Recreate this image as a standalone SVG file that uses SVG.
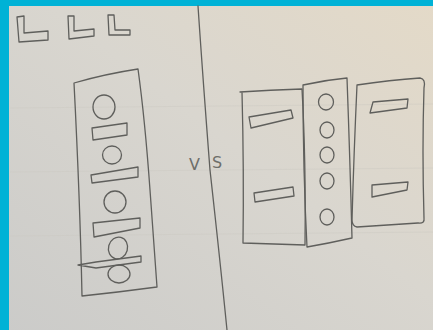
<svg xmlns="http://www.w3.org/2000/svg" width="433" height="330" viewBox="0 0 433 330">
<defs>
<linearGradient id="paper" x1="1" y1="0" x2="0" y2="1">
<stop offset="0" stop-color="#e4dac8"/>
<stop offset="0.45" stop-color="#d9d6cf"/>
<stop offset="1" stop-color="#cbcbc9"/>
</linearGradient>
</defs>
<style>
.ink{fill:none;stroke:#5f5f5c;stroke-width:1.3;stroke-linejoin:round;stroke-linecap:round}
.faint{fill:none;stroke:#c9c7c1;stroke-width:0.7;opacity:0.6}
.lbl{font-family:"DejaVu Sans","Liberation Sans",sans-serif;font-size:16px;fill:#6e6e6a;font-weight:normal}
</style>
<rect x="0" y="0" width="433" height="330" fill="url(#paper)"/>
<g id="paper-lines">
<path class="faint" d="M10 108 L433 104"/>
<path class="faint" d="M10 172 L433 168"/>
<path class="faint" d="M10 236 L433 232"/>
</g>
<rect x="0" y="0" width="433" height="6" fill="#00b2d6"/>
<rect x="0" y="0" width="9" height="330" fill="#00b2d6"/>

<g id="icons">
<path class="ink" d="M17 17 L24 16 L24 33 L48 31 L48 40 L19 42 Z"/>
<path class="ink" d="M68 16 L74 16 L74 31 L94 29 L94 36 L69 39 Z"/>
<path class="ink" d="M108 15 L114 15 L115 30 L130 30 L130 35 L109 35 Z"/>
</g>

<g id="divider">
<path class="ink" d="M198 6 Q203 80 210 170 Q220 260 227 330"/>
</g>

<g id="label-vs">
<text class="lbl" y="170"><tspan x="189">V</tspan><tspan x="212" dy="-2">S</tspan></text>
</g>

<g id="left-panel">
<path class="ink" d="M74 83 Q105 74 138 69 Q145 120 150 190 Q154 245 157 287 Q120 292 82 296 Q80 200 74 83 Z"/>
<ellipse class="ink" cx="104" cy="107" rx="11" ry="12"/>
<path class="ink" d="M92 128 L127 123 L127 135 L93 140 Z"/>
<ellipse class="ink" cx="112" cy="155" rx="9.5" ry="9"/>
<path class="ink" d="M91 175 L138 167 L138 177 L92 183 Z"/>
<ellipse class="ink" cx="115" cy="202" rx="11" ry="11"/>
<path class="ink" d="M93 223 L140 218 L140 228 L94 237 Z"/>
<ellipse class="ink" cx="118" cy="248" rx="9.5" ry="11" transform="rotate(15 118 248)"/>
<path class="ink" d="M78 265 L96 262 L141 256 L141 262 L96 268 Z"/>
<ellipse class="ink" cx="119" cy="274" rx="11" ry="9"/>
</g>

<g id="panel-a">
<path class="ink" d="M240 92 Q270 90 302 89 Q306 160 305 245 Q274 244 243 243 Q244 170 242 92"/>
<path class="ink" d="M249 117 L291 110 L293 118 L251 128 Z"/>
<path class="ink" d="M254 193 L293 187 L294 196 L255 202 Z"/>
</g>

<g id="panel-b">
<path class="ink" d="M303 85 Q325 80 347 78 Q350 160 352 238 Q330 243 307 247 Q303 170 303 85 Z"/>
<ellipse class="ink" cx="326" cy="102" rx="7.5" ry="8"/>
<ellipse class="ink" cx="327" cy="130" rx="7" ry="8"/>
<ellipse class="ink" cx="327" cy="155" rx="7" ry="8"/>
<ellipse class="ink" cx="327" cy="181" rx="7" ry="8"/>
<ellipse class="ink" cx="327" cy="217" rx="7" ry="8"/>
</g>

<g id="panel-c">
<path class="ink" d="M357 85 Q390 80 420 78 Q426 79 424 88 Q422 150 424 218 Q425 224 418 223 L357 227 Q352 226 352 220 Q354 150 357 85 Z"/>
<path class="ink" d="M373 102 L408 99 L407 108 L370 113 Z"/>
<path class="ink" d="M372 185 L408 182 L407 190 L372 197 Z"/>
</g>
</svg>
